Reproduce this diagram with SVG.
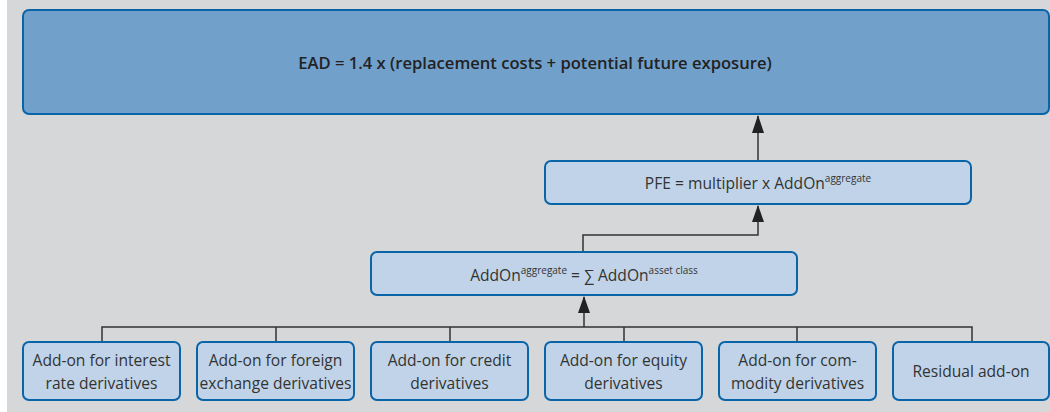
<svg xmlns="http://www.w3.org/2000/svg" width="1050" height="412" viewBox="0 0 1050 412">
<defs>
<style>
.bg{fill:#d6d7d9}
.dark{fill:#71a0cb;stroke:#0a64a8;stroke-width:2}
.light{fill:#c0d3e8;stroke:#0a64a8;stroke-width:2}
text{font-family:"Open Sans","Liberation Sans",sans-serif;fill:#333;font-size:15.6px;text-anchor:middle}
.title{font-weight:600;font-size:16.6px;fill:#222}
.sup{font-size:10px}
.conn{fill:none;stroke:#333;stroke-width:1.5}
</style>
</defs>
<rect class="bg" x="7" y="0" width="1043" height="412"/>
<g id="connectors">
<path class="conn" d="M758,161 V116"/>
<path d="M752,133 L758,115 L764,133 Z" fill="#222"/>
<path class="conn" d="M583,252 V235 H758 V206"/>
<path d="M752,222 L758,205 L764,222 Z" fill="#222"/>
<path class="conn" d="M102,342 V327 H972 V342 M276,327 V342 M450,327 V342 M624,327 V342 M797,327 V342 M584,327 V297"/>
<path d="M578,313 L584,296 L590,313 Z" fill="#222"/>
</g>
<g id="ead">
<rect class="dark" x="23" y="10" width="1026" height="104" rx="6"/>
<text class="title" x="535" y="69">EAD = 1.4 x (replacement costs + potential future exposure)</text>
</g>
<g id="pfe">
<rect class="light" x="545" y="161" width="426" height="43" rx="6"/>
<text x="758" y="189">PFE = multiplier x AddOn<tspan class="sup" dy="-7">aggregate</tspan></text>
</g>
<g id="addon">
<rect class="light" x="371" y="252" width="426" height="43" rx="6"/>
<text x="584" y="281">AddOn<tspan class="sup" dy="-7">aggregate</tspan><tspan dy="7"> = ∑ AddOn</tspan><tspan class="sup" dy="-7">asset class</tspan></text>
</g>
<g id="b1">
<rect class="light" x="23" y="342" width="157" height="58" rx="6"/>
<text x="101.5" y="366">Add-on for interest</text>
<text x="101.5" y="389">rate derivatives</text>
</g>
<g id="b2">
<rect class="light" x="197" y="342" width="157" height="58" rx="6"/>
<text x="275.5" y="366">Add-on for foreign</text>
<text x="275.5" y="389">exchange derivatives</text>
</g>
<g id="b3">
<rect class="light" x="371" y="342" width="157" height="58" rx="6"/>
<text x="449.5" y="366">Add-on for credit</text>
<text x="449.5" y="389">derivatives</text>
</g>
<g id="b4">
<rect class="light" x="545" y="342" width="157" height="58" rx="6"/>
<text x="623.5" y="366">Add-on for equity</text>
<text x="623.5" y="389">derivatives</text>
</g>
<g id="b5">
<rect class="light" x="719" y="342" width="157" height="58" rx="6"/>
<text x="797.5" y="366">Add-on for com-</text>
<text x="797.5" y="389">modity derivatives</text>
</g>
<g id="b6">
<rect class="light" x="893" y="342" width="156" height="58" rx="6"/>
<text x="971" y="377">Residual add-on</text>
</g>
</svg>
